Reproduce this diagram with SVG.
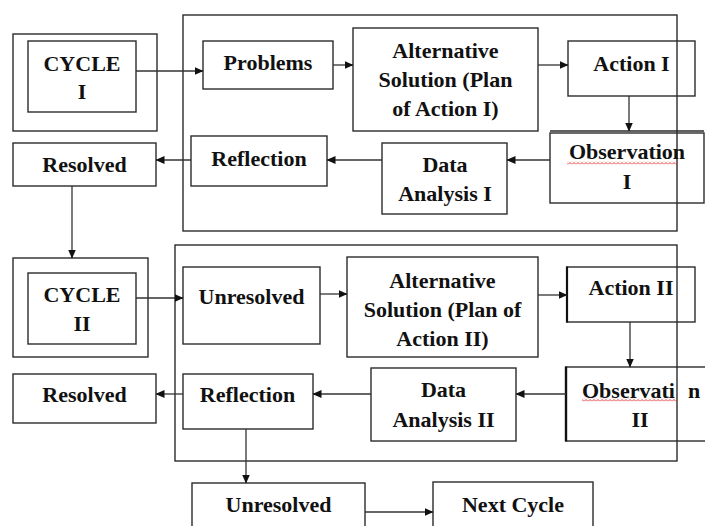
<svg xmlns="http://www.w3.org/2000/svg" width="705" height="526" viewBox="0 0 705 526">
<style>
.box{fill:none;stroke:#2b2b2b;stroke-width:1.4}
.bg{fill:#fff}
.t{font-family:"Liberation Serif","Times New Roman",serif;font-weight:bold;font-size:22px;fill:#111;text-anchor:middle}
.ts{text-anchor:start}
.c{stroke:#333;stroke-width:1.3;fill:none;marker-end:url(#ah)}
</style>
<defs>
<marker id="ah" markerUnits="userSpaceOnUse" markerWidth="9" markerHeight="8" refX="8.5" refY="4" orient="auto">
<path d="M0,0 L9,4 L0,8 z" fill="#111"/>
</marker>
<pattern id="squig" patternUnits="userSpaceOnUse" x="0" y="0" width="4" height="3">
<path d="M0,2.5 L2,0.5 L4,2.5" fill="none" stroke="#e02020" stroke-width="0.9"/>
</pattern>
</defs>
<rect width="705" height="526" fill="#fff"/>

<g id="frames">
<rect class="box" x="183" y="15" width="494" height="216"/>
<rect class="box" x="175" y="245" width="502" height="216"/>
</g>

<g id="cycle1">
<rect class="box" x="13" y="34" width="144" height="97"/>
<rect class="box" x="28" y="41" width="108" height="71"/>
<text class="t" x="82" y="70.5">CYCLE</text>
<text class="t" x="82" y="99">I</text>
</g>
<g id="problems">
<rect class="box" x="203" y="41" width="130" height="48"/>
<text class="t" x="268" y="70">Problems</text>
</g>
<g id="alt1">
<rect class="box" x="353" y="28" width="185" height="103"/>
<text class="t" x="445.5" y="58">Alternative</text>
<text class="t" x="445.5" y="87">Solution (Plan</text>
<text class="t" x="445.5" y="116">of Action I)</text>
</g>
<g id="action1">
<rect class="box" x="568" y="41" width="127" height="55"/>
<text class="t" x="631.5" y="70.5">Action I</text>
</g>
<g id="obs1">
<line x1="550" y1="131" x2="704" y2="131" stroke="#2b2b2b" stroke-width="1.3"/>
<rect class="box" x="550" y="133" width="154" height="70"/>
<text class="t" x="627" y="159">Observation</text>
<rect x="567" y="161.5" width="110" height="3" fill="url(#squig)"/>
<text class="t" x="627" y="189">I</text>
</g>
<g id="data1">
<rect class="box" x="382" y="143" width="125" height="71"/>
<text class="t" x="445" y="171.5">Data</text>
<text class="t" x="445" y="201">Analysis I</text>
</g>
<g id="reflection1">
<rect class="box" x="191" y="136" width="136" height="50"/>
<text class="t" x="259" y="165.5">Reflection</text>
</g>
<g id="resolved1">
<rect class="box" x="13" y="143" width="143" height="43"/>
<text class="t" x="84.5" y="172">Resolved</text>
</g>

<g id="cycle2">
<rect class="box" x="13" y="258" width="135" height="99"/>
<rect class="box" x="28" y="273" width="108" height="71"/>
<text class="t" x="82" y="302">CYCLE</text>
<text class="t" x="82" y="331">II</text>
</g>
<g id="unresolved1">
<rect class="box" x="183" y="267" width="137" height="77"/>
<text class="t" x="251.5" y="304">Unresolved</text>
</g>
<g id="alt2">
<rect class="box" x="347" y="257" width="191" height="100"/>
<text class="t" x="442.5" y="288">Alternative</text>
<text class="t" x="442.5" y="317">Solution (Plan of</text>
<text class="t" x="442.5" y="346">Action II)</text>
</g>
<g id="action2">
<rect class="box" x="567" y="267" width="128" height="55"/>
<line x1="567" y1="266.5" x2="567" y2="322.5" stroke="#111" stroke-width="2.2"/>
<text class="t" x="631" y="295">Action II</text>
</g>
<g id="obs2">
<rect class="box" x="566" y="367" width="150" height="74" stroke-width="1.8"/>
<line x1="566" y1="366.5" x2="566" y2="441.5" stroke="#111" stroke-width="2.4"/>
<text class="t ts" x="582" y="398">Observati<tspan x="688">n</tspan></text>
<rect x="582" y="398.5" width="95" height="3" fill="url(#squig)"/>
<text class="t" x="640" y="427">II</text>
</g>
<g id="data2">
<rect class="box" x="371" y="368" width="145" height="73"/>
<text class="t" x="443.5" y="397">Data</text>
<text class="t" x="443.5" y="427">Analysis II</text>
</g>
<g id="reflection2">
<rect class="box" x="183" y="374" width="130" height="55"/>
<text class="t" x="247.5" y="402">Reflection</text>
</g>
<g id="resolved2">
<rect class="box" x="13" y="374" width="143" height="49"/>
<text class="t" x="84.5" y="402">Resolved</text>
</g>
<g id="unresolved2">
<rect class="box" x="192" y="483" width="173" height="60"/>
<text class="t" x="278.5" y="512">Unresolved</text>
</g>
<g id="nextcycle">
<rect class="box" x="433" y="482" width="160" height="60"/>
<text class="t" x="513" y="512">Next Cycle</text>
</g>

<g id="connectors">
<line class="c" x1="136" y1="71" x2="203" y2="71"/>
<line class="c" x1="333" y1="65" x2="353" y2="65"/>
<line class="c" x1="538" y1="65" x2="568" y2="65"/>
<line class="c" x1="629" y1="96" x2="629" y2="131"/>
<line class="c" x1="550" y1="160" x2="507" y2="160"/>
<line class="c" x1="382" y1="160" x2="327" y2="160"/>
<line class="c" x1="191" y1="160" x2="156" y2="160"/>
<line class="c" x1="72" y1="186" x2="72" y2="258"/>
<line class="c" x1="136" y1="298" x2="183" y2="298"/>
<line class="c" x1="320" y1="294" x2="347" y2="294"/>
<line class="c" x1="538" y1="295" x2="567" y2="295"/>
<line class="c" x1="630" y1="322" x2="630" y2="367"/>
<line class="c" x1="566" y1="394" x2="516" y2="394"/>
<line class="c" x1="371" y1="394" x2="313" y2="394"/>
<line class="c" x1="183" y1="394" x2="156" y2="394"/>
<line class="c" x1="246" y1="429" x2="246" y2="483"/>
<line class="c" x1="365" y1="512" x2="433" y2="512"/>
</g>
</svg>
